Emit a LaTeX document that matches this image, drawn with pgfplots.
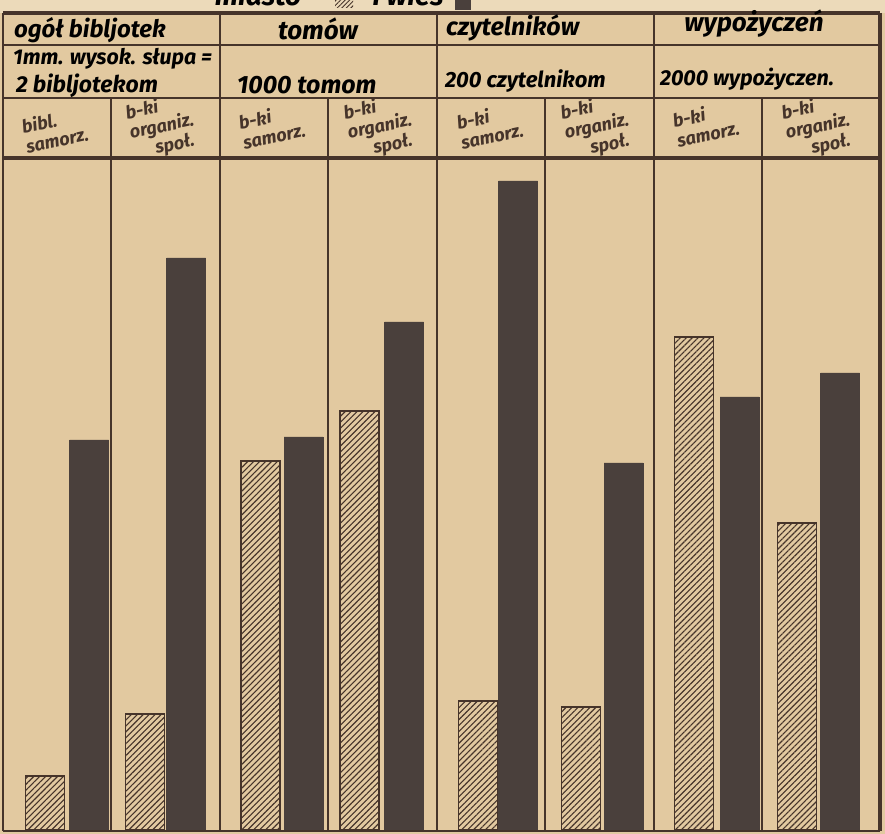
\documentclass[border=0pt]{standalone}
\usepackage{pgfplots}
\pgfplotsset{compat=1.18}
\usetikzlibrary{patterns.meta}
\usepackage{fontspec}
\setmainfont{Fira Sans}
\definecolor{paper}{RGB}{226,201,160}
\definecolor{paperlight}{RGB}{236,218,186}
\definecolor{darkbar}{RGB}{74,64,60}
\definecolor{linec}{RGB}{70,52,42}
\tikzset{sub/.style={rotate=12, align=left, text=linec, inner sep=0pt, font=\bfseries\itshape\fontsize{9}{10}\selectfont}}
\begin{document}
\begin{tikzpicture}
\fill[paper] (0,0) rectangle (442.5pt,417pt);
\fill[paperlight] (0,410.5pt) rectangle (442.5pt,417pt);
\begin{axis}[
  at={(0,0)}, anchor=south west,
  width=442.5pt, height=417pt, scale only axis,
  xmin=0, xmax=885, ymin=-4, ymax=830,
  axis lines=none, clip=false,
  every node/.append style={font=\bfseries\itshape, text=linec},
]
% hatched bars: miasto
\addplot[ybar, bar width=39, bar shift=0pt, draw=linec, line width=0.9pt,
  pattern={Lines[angle=45,distance=2.1pt,line width=0.55pt]}, pattern color=linec]
  coordinates {(45,54) (145,116) (260.5,369) (359.5,419) (478,129) (581,123) (694,493) (797,307)};
% dark bars: wies
\addplot[ybar, bar width=39, bar shift=0pt, draw=darkbar, fill=darkbar]
  coordinates {(89,390) (186,572) (303.5,393) (404,508) (518,649) (623.5,367) (739.5,433) (840,457)};
% table lines
\draw[linec, line width=1.6pt] (axis cs:3,817) -- (axis cs:880,817);
\draw[linec, line width=1.2pt] (axis cs:3,785) -- (axis cs:880,785);
\draw[linec, line width=1.2pt] (axis cs:3,732) -- (axis cs:880,732);
\draw[linec, line width=1.6pt] (axis cs:3,672) -- (axis cs:880,672);
\draw[linec, line width=1.4pt] (axis cs:3,-1) -- (axis cs:880,-1);
\draw[linec, line width=1.3pt] (axis cs:3,817) -- (axis cs:3,-1);
\draw[linec, line width=1.3pt] (axis cs:220,817) -- (axis cs:220,-1);
\draw[linec, line width=1.3pt] (axis cs:437,817) -- (axis cs:437,-1);
\draw[linec, line width=1.3pt] (axis cs:654,817) -- (axis cs:654,-1);
\draw[linec, line width=2pt] (axis cs:880,817) -- (axis cs:880,-1);
\draw[linec, line width=1.1pt] (axis cs:111,732) -- (axis cs:111,-1);
\draw[linec, line width=1.1pt] (axis cs:328,732) -- (axis cs:328,-1);
\draw[linec, line width=1.1pt] (axis cs:545,732) -- (axis cs:545,-1);
\draw[linec, line width=1.1pt] (axis cs:762,732) -- (axis cs:762,-1);
% title (cut at top)
\node[anchor=base, font=\bfseries\itshape\fontsize{14}{15}\selectfont] at (axis cs:258,824) {miasto};
\fill[pattern={Lines[angle=45,distance=1.6pt,line width=0.5pt]}, pattern color=linec] (axis cs:335,822) rectangle (axis cs:353,838);
\node[anchor=base, font=\bfseries\itshape\fontsize{14}{15}\selectfont] at (axis cs:408,824) {i wieś};
\fill[darkbar] (axis cs:455,820) rectangle (axis cs:471,838);
% row 1
\node[anchor=west, font=\bfseries\itshape\fontsize{12}{13}\selectfont] at (axis cs:7,800) {ogół bibljotek};
\node[font=\bfseries\itshape\fontsize{13}{14}\selectfont] at (axis cs:318,801) {tomów};
\node[anchor=west, font=\bfseries\itshape\fontsize{12.5}{14}\selectfont] at (axis cs:439,802) {czytelników};
\node[font=\bfseries\itshape\fontsize{13}{14}\selectfont] at (axis cs:754,806) {wypożyczeń};
% row 2
\node[anchor=west, font=\bfseries\itshape\fontsize{10.7}{12}\selectfont] at (axis cs:6,771) {1mm. wysok. słupa =};
\node[anchor=west, font=\bfseries\itshape\fontsize{11.5}{12}\selectfont] at (axis cs:9,744) {2 bibljotekom};
\node[anchor=west, font=\bfseries\itshape\fontsize{12.5}{12}\selectfont] at (axis cs:230,745) {1000 tomom};
\node[anchor=west, font=\bfseries\itshape\fontsize{11}{12}\selectfont] at (axis cs:438,749) {200 czytelnikom};
\node[anchor=west, font=\bfseries\itshape\fontsize{10.8}{12}\selectfont] at (axis cs:653,751) {2000 wypożyczen.};
% row 3 subheaders
\node[sub] at (axis cs:55,700) {bibl.\\samorz.};
\node[sub] at (axis cs:162,703) {b-ki\\organiz.\\\hspace*{1.2em}społ.};
\node[sub] at (axis cs:272,704) {b-ki\\samorz.};
\node[sub] at (axis cs:380,703) {b-ki\\organiz.\\\hspace*{1.2em}społ.};
\node[sub] at (axis cs:490,704) {b-ki\\samorz.};
\node[sub] at (axis cs:597,703) {b-ki\\organiz.\\\hspace*{1.2em}społ.};
\node[sub] at (axis cs:706,706) {b-ki\\samorz.};
\node[sub] at (axis cs:818,703) {b-ki\\organiz.\\\hspace*{1.2em}społ.};
\end{axis}
\pgfresetboundingbox
\useasboundingbox (0,0) rectangle (442.5pt,417pt);
\end{tikzpicture}
\end{document}
